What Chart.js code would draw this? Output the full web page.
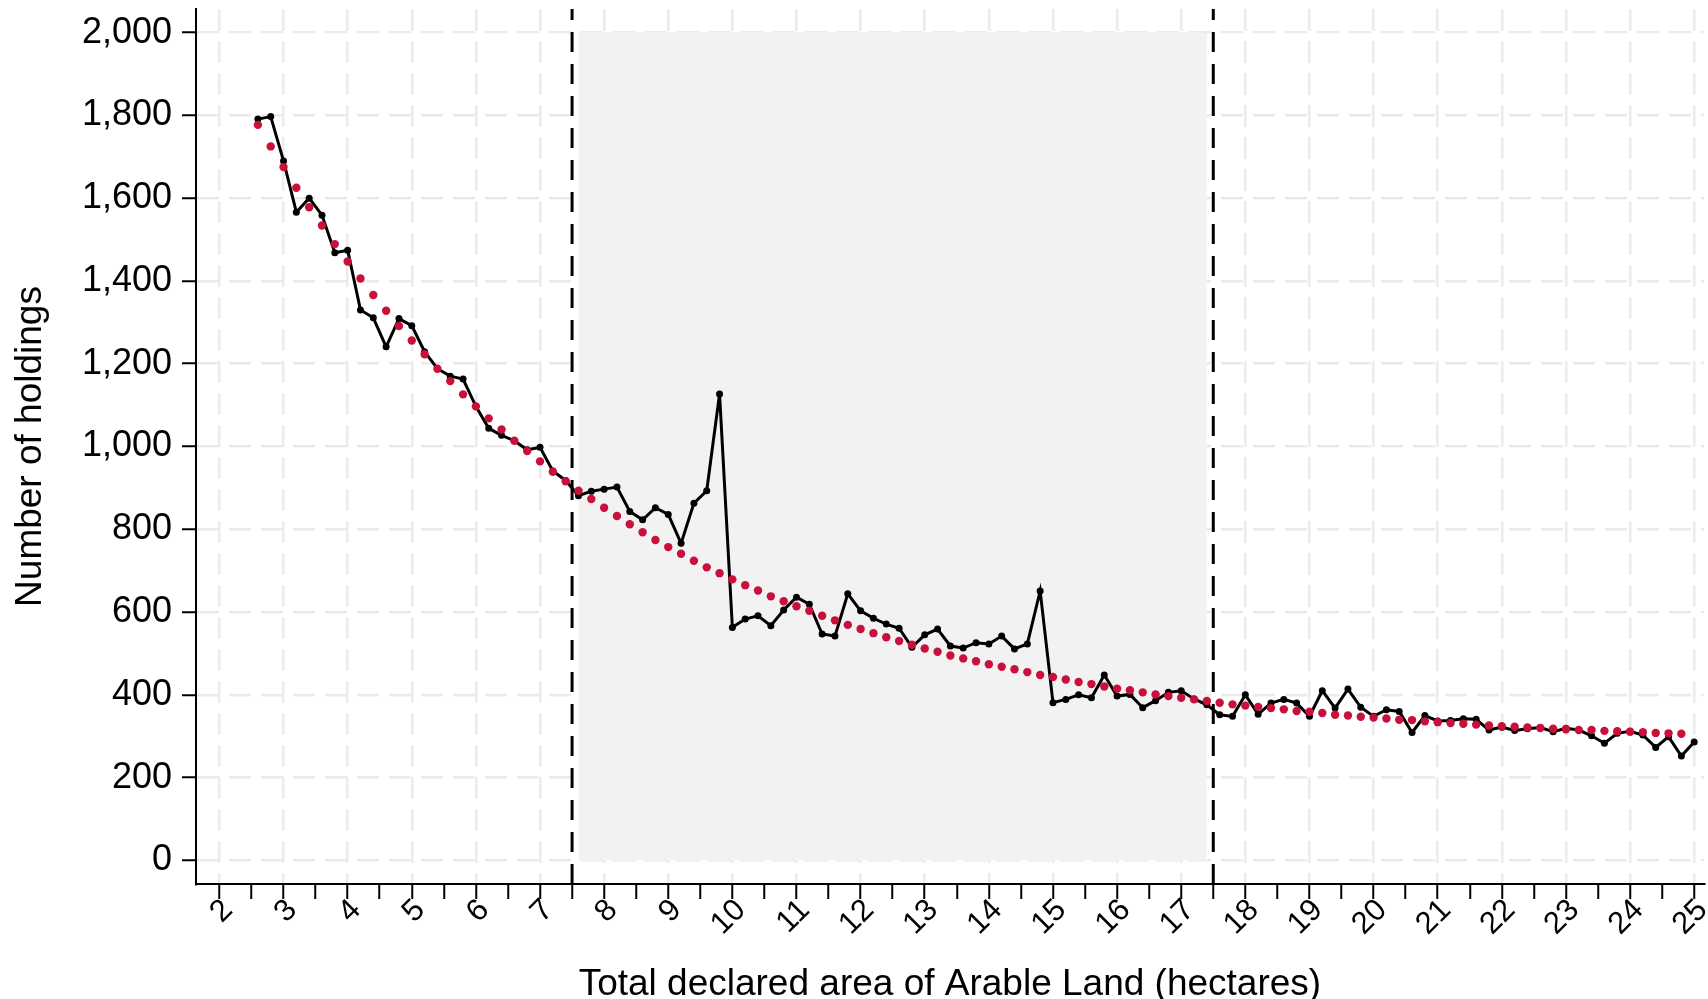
<!DOCTYPE html>
<html>
<head>
<meta charset="utf-8">
<style>
  html, body { margin: 0; padding: 0; background: #fff; }
  #wrap { width: 1708px; height: 999px; position: relative; }
</style>
<script src="https://cdn.jsdelivr.net/npm/chart.js@4.4.0/dist/chart.umd.min.js"></script>
</head>
<body>
<div id="wrap"><canvas id="chart"></canvas></div>
<script>
// hectares of declared arable land (bin midpoints)
var areaHa = [
    2.6, 2.8, 3.0, 3.2, 3.4, 3.6, 3.8, 4.0, 4.2, 4.4, 4.6, 4.8, 5.0, 5.2, 5.4, 5.6, 5.8,
    6.0, 6.2, 6.4, 6.6, 6.8, 7.0, 7.2, 7.4, 7.6, 7.8, 8.0, 8.2, 8.4, 8.6, 8.8, 9.0, 9.2,
    9.4, 9.6, 9.8, 10.0, 10.2, 10.4, 10.6, 10.8, 11.0, 11.2, 11.4, 11.6, 11.8, 12.0, 12.2,
    12.4, 12.6, 12.8, 13.0, 13.2, 13.4, 13.6, 13.8, 14.0, 14.2, 14.4, 14.6, 14.8, 15.0,
    15.2, 15.4, 15.6, 15.8, 16.0, 16.2, 16.4, 16.6, 16.8, 17.0, 17.2, 17.4, 17.6, 17.8,
    18.0, 18.2, 18.4, 18.6, 18.8, 19.0, 19.2, 19.4, 19.6, 19.8, 20.0, 20.2, 20.4, 20.6,
    20.8, 21.0, 21.2, 21.4, 21.6, 21.8, 22.0, 22.2, 22.4, 22.6, 22.8, 23.0, 23.2, 23.4,
    23.6, 23.8, 24.0, 24.2, 24.4, 24.6, 24.8, 25.0
];

// observed number of holdings
var holdings = [
    1791, 1797, 1690, 1566, 1600, 1559, 1468, 1474, 1330, 1311, 1241, 1309, 1292, 1229, 1188, 1170, 1163,
    1097, 1044, 1027, 1014, 992, 998, 941, 918, 881, 892, 897, 902, 843, 823, 852, 836, 766,
    863, 893, 1127, 563, 583, 591, 567, 605, 636, 619, 547, 542, 644, 603, 585,
    571, 561, 515, 545, 559, 518, 513, 526, 523, 542, 511, 523, 651, 381,
    389, 400, 393, 448, 397, 401, 369, 386, 406, 410, 390, 376, 352, 348,
    400, 353, 380, 389, 380, 348, 410, 368, 414, 370, 348, 364, 360, 309,
    350, 337, 338, 342, 341, 315, 322, 314, 318, 321, 311, 319, 315, 301,
    283, 307, 312, 303, 273, 299, 252, 286
];

// fitted counterfactual curve
var fitted = [
    1777, 1725, 1675, 1625, 1578, 1534, 1489, 1447, 1406, 1366, 1328, 1291, 1256, 1223, 1188, 1158, 1126,
    1097, 1068, 1041, 1014, 989, 964, 939, 916, 893, 873, 852, 832, 812, 793, 774, 757, 741,
    724, 708, 694, 679, 665, 652, 638, 626, 614, 603, 591, 580, 569, 559, 549,
    539, 530, 521, 512, 504, 495, 488, 481, 474, 468, 462, 455, 448, 443,
    437, 431, 426, 420, 415, 411, 406, 401, 397, 393, 389, 385, 381, 377,
    374, 371, 368, 365, 361, 359, 356, 352, 350, 347, 345, 343, 340, 339,
    336, 334, 332, 330, 328, 326, 324, 323, 321, 320, 318, 317, 315, 315,
    313, 312, 311, 310, 308, 307, 306, null
];

var yTicks = [0, 200, 400, 600, 800, 1000, 1200, 1400, 1600, 1800, 2000];
var bandLimits = [7.5, 17.5];
var bandTop = 2000;
var xTitle = 'Total declared area of Arable Land (hectares)';
var yTitle = 'Number of holdings';

var X_MIN = 1.635, X_MAX = 25.15;
var Y_MIN = -57, Y_MAX = 2057;
var RED = '#C8103A';
var GRID = '#ebebeb';

function toPoints(xs, ys) {
    return xs.map(function(x, i) { return {x: x, y: ys[i]}; });
}

// shaded area runs over the bins that fall strictly inside the band
var inBand = areaHa.filter(function(x) { return x > bandLimits[0] && x < bandLimits[1]; });
var shadePoints = [
    {x: inBand[0], y: bandTop},
    {x: inBand[inBand.length - 1], y: bandTop}
];

function isWhole(v) { return Math.abs(v - Math.round(v)) < 1e-6; }

Chart.defaults.font.family = '"Liberation Sans", Arial, sans-serif';
Chart.defaults.color = '#000';

var ctx = document.getElementById('chart').getContext('2d');
new Chart(ctx, {
    type: 'line',
    data: {
        datasets: [
            {
                label: 'Fitted',
                data: toPoints(areaHa, fitted),
                showLine: false,
                pointRadius: 4.2,
                pointBorderWidth: 0,
                pointBackgroundColor: RED,
                backgroundColor: RED,
                borderColor: RED
            },
            {
                label: 'Holdings',
                data: toPoints(areaHa, holdings),
                borderColor: '#000',
                borderWidth: 3,
                pointRadius: 3.5,
                pointBorderWidth: 0,
                pointBackgroundColor: '#000',
                tension: 0
            },
            {
                label: 'lower',
                data: [{x: bandLimits[0], y: Y_MIN}, {x: bandLimits[0], y: Y_MAX}],
                borderColor: '#000',
                borderWidth: 3,
                borderDash: [20, 12],
                pointRadius: 0
            },
            {
                label: 'upper',
                data: [{x: bandLimits[1], y: Y_MIN}, {x: bandLimits[1], y: Y_MAX}],
                borderColor: '#000',
                borderWidth: 3,
                borderDash: [20, 12],
                pointRadius: 0
            },
            {
                label: 'band',
                data: shadePoints,
                fill: 'origin',
                backgroundColor: '#f2f2f2',
                borderWidth: 0,
                pointRadius: 0
            }
        ]
    },
    options: {
        responsive: true,
        maintainAspectRatio: false,
        animation: false,
        layout: { padding: { top: 9, left: 0, right: 0, bottom: 0 } },
        plugins: {
            legend: { display: false },
            tooltip: { enabled: false }
        },
        scales: {
            x: {
                type: 'linear',
                min: X_MIN,
                max: X_MAX,
                border: { display: true, color: '#000', width: 2, dash: [22, 10] },
                grid: {
                    color: function(c) {
                        return c.tick && !isWhole(c.tick.value) ? 'rgba(0,0,0,0)' : GRID;
                    },
                    lineWidth: 2.5,
                    tickColor: '#000',
                    tickWidth: 2,
                    tickLength: 15
                },
                ticks: {
                    stepSize: 0.5,
                    includeBounds: false,
                    autoSkip: false,
                    minRotation: 45,
                    maxRotation: 45,
                    padding: -7,
                    labelOffset: 8.5,
                    font: { size: 31 },
                    callback: function(v) { return isWhole(v) ? String(Math.round(v)) : ''; }
                },
                title: {
                    display: true,
                    text: xTitle,
                    font: { size: 37 },
                    padding: { top: 0, bottom: -8 }
                },
                afterFit: function(scale) {
                    scale.height = 115;
                    scale.paddingLeft = 0;
                    scale.paddingRight = 0;
                    scale.paddingTop = 0;
                    scale.paddingBottom = 0;
                }
            },
            y: {
                min: Y_MIN,
                max: Y_MAX,
                border: { display: true, color: '#000', width: 2, dash: [22, 10] },
                grid: {
                    color: GRID,
                    lineWidth: 2.5,
                    tickColor: '#000',
                    tickWidth: 2,
                    tickLength: 14
                },
                afterBuildTicks: function(scale) {
                    scale.ticks = yTicks.map(function(v) { return {value: v}; });
                },
                ticks: {
                    padding: 10,
                    font: { size: 36 },
                    callback: function(v) { return v.toLocaleString('en-US'); }
                },
                title: {
                    display: true,
                    text: yTitle,
                    font: { size: 37 },
                    padding: { top: 9, bottom: 0 }
                },
                afterFit: function(scale) {
                    scale.width = 196;
                    scale.paddingLeft = 0;
                    scale.paddingRight = 0;
                    scale.paddingTop = 0;
                    scale.paddingBottom = 0;
                }
            }
        }
    }
});
</script>
</body>
</html>
